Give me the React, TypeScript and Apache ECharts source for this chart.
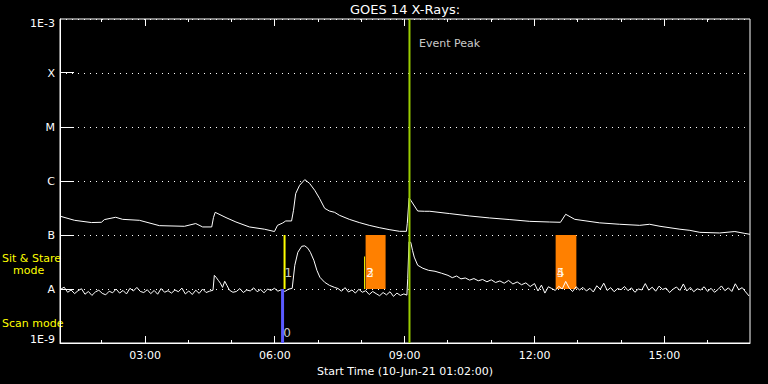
import { useEffect, useRef } from "react";
import * as echarts from "echarts";

const chartTitle = "GOES 14 X-Rays:";
const axisTitle = "Start Time (10-Jun-21 01:02:00)";
const timeStart = 1.0333; // 01:02 in hours
const timeEnd = 16.98;
const majorHours = [3, 6, 9, 12, 15];
const minorHours = [2, 4, 5, 7, 8, 10, 11, 13, 14, 16];
const fluxMin = 1e-9;
const fluxMax = 1e-3;
const fluxDecades = [1e-8, 1e-7, 1e-6, 1e-5, 1e-4];
const fluxTickLabels = ["1E-9", "A", "B", "C", "M", "X", "1E-3"];
const UNIT = 1e-9; // flux values below are in 1e-9 W/m^2

// long channel (1-8 A): [hour, flux in 1e-9]
const longChannel: [number, number][] = [
  [1.045, 222], [1.37, 187], [1.76, 170], [1.99, 172], [2.06, 193], [2.32, 213], [2.48, 195],
  [2.87, 187], [3.33, 149], [3.91, 145], [4.17, 163], [4.33, 141], [4.54, 141], [4.58, 210],
  [4.62, 263], [4.87, 210], [5.10, 174], [5.41, 141], [5.76, 128], [5.99, 116], [6.06, 151],
  [6.18, 167], [6.25, 182], [6.385, 182], [6.43, 287], [6.48, 584], [6.57, 832], [6.69, 1060],
  [6.80, 906], [6.92, 673], [7.03, 478], [7.15, 312], [7.26, 278], [7.38, 263], [7.49, 232],
  [7.72, 195], [7.95, 170], [8.18, 151], [8.41, 137], [8.64, 126], [8.88, 117], [9.04, 117],
  [9.06, 165], [9.10, 478], [9.14, 439], [9.30, 278], [9.46, 275], [9.58, 275], [10.04, 249],
  [10.50, 225], [10.96, 207], [11.43, 193], [11.89, 179], [12.35, 174], [12.60, 172],
  [12.72, 242], [12.93, 195], [13.50, 168], [13.97, 158], [14.43, 151], [14.66, 158],
  [14.90, 145], [15.36, 128], [15.59, 122], [15.82, 112], [16.28, 109], [16.63, 116],
  [16.86, 107], [16.98, 103],
];

// short channel (0.5-4 A): [hour, flux in 1e-9]
const shortChannel: [number, number][] = [
  [1.05, 9.9], [1.13, 10.8], [1.21, 8.7], [1.29, 9.6], [1.37, 8.2], [1.45, 9.3], [1.53, 10.1],
  [1.61, 8.0], [1.69, 9.0], [1.77, 7.6], [1.85, 8.8], [1.93, 9.5], [2.01, 8.3], [2.09, 7.8],
  [2.17, 9.1], [2.25, 8.5], [2.33, 10.0], [2.41, 8.4], [2.49, 9.4], [2.57, 8.1], [2.65, 10.3],
  [2.73, 9.2], [2.81, 10.7], [2.89, 9.0], [2.97, 8.6], [3.05, 9.7], [3.13, 8.2], [3.21, 9.4],
  [3.29, 8.0], [3.37, 10.2], [3.45, 8.7], [3.53, 9.3], [3.61, 8.4], [3.69, 9.6], [3.77, 8.9],
  [3.85, 10.4], [3.93, 8.1], [4.01, 9.2], [4.09, 7.9], [4.17, 9.5], [4.25, 8.3], [4.33, 10.0],
  [4.41, 8.6], [4.49, 9.1],
  [4.57, 9.5], [4.60, 17.9], [4.64, 16.5], [4.69, 14.5], [4.74, 12.8], [4.79, 10.7],
  [4.84, 13.9], [4.89, 11.7], [4.95, 9.5], [5.03, 8.7],
  [5.11, 9.0], [5.19, 10.2], [5.27, 8.6], [5.35, 9.6], [5.43, 9.2], [5.51, 10.5], [5.59, 8.9],
  [5.67, 9.8], [5.75, 8.5], [5.83, 10.0], [5.91, 9.4], [5.99, 10.3], [6.07, 9.1], [6.15, 9.7],
  [6.23, 9.0], [6.31, 9.9],
  [6.40, 10.3], [6.46, 27.5], [6.53, 47.8], [6.62, 61.8], [6.69, 63.0], [6.76, 57.0],
  [6.82, 47.8], [6.90, 34.0], [6.97, 22.2], [7.04, 16.5], [7.15, 13.3], [7.26, 11.7],
  [7.38, 10.7],
  [7.46, 10.2], [7.54, 9.1], [7.62, 10.6], [7.70, 8.8], [7.78, 9.6], [7.86, 8.4], [7.94, 9.9],
  [8.02, 8.7], [8.10, 9.3], [8.18, 7.9], [8.26, 9.0], [8.34, 8.2], [8.42, 7.5], [8.50, 8.6],
  [8.58, 7.8], [8.66, 8.9], [8.74, 7.3], [8.82, 8.4], [8.90, 7.6], [8.98, 8.1],
  [9.05, 7.7], [9.07, 15.8], [9.10, 75], [9.14, 73], [9.18, 52], [9.22, 39], [9.30, 27.5],
  [9.42, 24.2], [9.55, 22.2], [9.70, 21.3], [9.85, 19.6], [10.0, 17.9], [10.1, 16.2],
  [10.2, 17.4], [10.3, 15.4], [10.4, 16.0], [10.5, 14.6], [10.6, 15.6], [10.7, 14.2],
  [10.8, 15.0], [10.9, 13.6], [11.0, 14.8], [11.1, 13.2], [11.2, 14.1], [11.3, 12.8],
  [11.4, 14.4], [11.5, 12.4], [11.6, 13.5], [11.7, 12.0], [11.8, 13.0], [11.9, 11.1],
  [12.0, 12.6], [12.08, 9.2], [12.16, 11.8], [12.24, 8.4], [12.32, 11.0], [12.40, 10.2],
  [12.48, 9.4], [12.56, 11.2], [12.64, 10.0], [12.72, 13.8], [12.80, 10.4], [12.88, 9.0],
  [12.96, 11.0], [13.04, 9.6], [13.12, 10.7], [13.20, 9.2], [13.28, 10.3], [13.36, 8.8],
  [13.44, 11.5], [13.52, 9.9], [13.60, 12.8], [13.68, 9.4], [13.76, 10.6], [13.84, 8.9],
  [13.92, 10.2], [14.00, 9.7], [14.08, 11.1], [14.16, 9.3], [14.24, 10.5], [14.32, 8.7],
  [14.40, 10.0], [14.48, 9.6], [14.56, 12.6], [14.64, 9.5], [14.72, 10.8], [14.80, 9.1],
  [14.88, 11.3], [14.96, 9.8], [15.04, 10.4], [15.12, 8.6], [15.20, 9.9], [15.28, 10.9],
  [15.36, 9.4], [15.44, 12.4], [15.52, 9.2], [15.60, 10.7], [15.68, 8.9], [15.76, 10.1],
  [15.84, 9.6], [15.92, 11.0], [16.00, 9.0], [16.08, 10.3], [16.16, 8.7], [16.24, 9.8],
  [16.32, 11.4], [16.40, 9.3], [16.48, 10.5], [16.56, 9.0], [16.64, 12.5], [16.72, 9.7],
  [16.80, 10.6], [16.88, 8.8], [16.96, 7.4],
];

const eventPeakTime = 9.11;
const eventLabel = { time: 9.33, flux: 3.5e-4, text: "Event Peak" };
// scan mode pointing: [hour, fluxFrom, fluxTo]
const scanLines: [number, number, number][] = [[6.177, 1e-9, 1e-8]];
// sit & stare pointings: [hour, fluxFrom, fluxTo, width]
const stareLines: [number, number, number, number][] = [
  [6.223, 1e-8, 1e-7, 2],
  [8.073, 1e-8, 4e-8, 1],
];
// sit & stare windows: [hourStart, hourEnd]
const stareWindows: [number, number][] = [
  [8.096, 8.558],
  [12.488, 12.967],
];
// pointing numbers: [label, hour, flux]
const pointLabels: [string, number, number][] = [
  ["0", 6.28, 1.5e-9],
  ["1", 6.31, 1.98e-8],
  ["2", 8.2, 2.0e-8],
  ["3", 8.2, 2.0e-8],
  ["4", 12.6, 2.0e-8],
  ["5", 12.6, 2.0e-8],
];

const FONT = "DejaVu Sans";
const TICK_COLOR = "#fff";
const MAJOR_LEN = 7;
const MINOR_LEN = 3;
const DECADE_LEN = 14;
const hourLabel = (v: number) => String(Math.round(v)).padStart(2, "0") + ":00";
const fluxLabel = (v: number) => {
  const e = Math.round(Math.log10(v));
  const s = fluxTickLabels[e + 9] ?? "";
  if (e === -3) return `{top|${s}}`;
  if (e === -9) return `{bot|${s}}`;
  return s;
};
const crisp = (v: number) => Math.round(v - 0.5) + 0.5;
const allHours = [...majorHours, ...minorHours];

const option = {
  animation: false,
  backgroundColor: "#000",
  textStyle: { fontFamily: FONT },
  title: {
    text: chartTitle,
    left: 405,
    top: 3,
    padding: 0,
    textAlign: "center",
    textStyle: { color: "#fff", fontSize: 13, fontWeight: "normal", fontFamily: FONT },
  },
  grid: {
    left: 60,
    right: 18,
    top: 19,
    bottom: 41,
    show: true,
    borderColor: "#fff",
    borderWidth: 1,
    backgroundColor: "transparent",
  },
  graphic: [
    { type: "text", left: 2, top: 253, style: { text: "Sit & Stare", fill: "#ffff00", font: `11px "${FONT}"` } },
    { type: "text", left: 13, top: 265, style: { text: "mode", fill: "#ffff00", font: `11px "${FONT}"` } },
    { type: "text", left: 2, top: 318, style: { text: "Scan mode", fill: "#ffff00", font: `11px "${FONT}"` } },
  ],
  xAxis: {
    type: "value",
    min: timeStart,
    max: timeEnd,
    position: "bottom",
    splitLine: { show: false },
    axisLine: { show: true, lineStyle: { color: "#fff", width: 1 } },
    axisTick: { show: false },
    axisLabel: {
      show: true,
      customValues: majorHours,
      formatter: hourLabel,
      color: "#fff",
      fontSize: 11,
      fontFamily: FONT,
      margin: 7,
    },
    name: axisTitle,
    nameLocation: "middle",
    nameGap: 19,
    nameTextStyle: { color: "#fff", fontSize: 11, fontFamily: FONT },
  },
  yAxis: {
    type: "log",
    logBase: 10,
    min: fluxMin,
    max: fluxMax,
    axisLine: { show: true, lineStyle: { color: "#fff", width: 1 } },
    axisTick: { show: false },
    splitLine: { show: true, lineStyle: { color: "#fff", width: 1, type: [1, 5] } },
    axisLabel: {
      color: "#fff",
      fontSize: 11,
      fontFamily: FONT,
      margin: 5,
      formatter: fluxLabel,
      showMinLabel: true,
      showMaxLabel: true,
      rich: {
        top: { color: "#fff", fontSize: 11, fontFamily: FONT, padding: [8, 0, 0, 0] },
        bot: { color: "#fff", fontSize: 11, fontFamily: FONT, padding: [0, 0, 7, 0] },
      },
    },
  },
  series: [
    {
      type: "line",
      name: "windows",
      data: [],
      silent: true,
      markArea: {
        silent: true,
        itemStyle: { color: "#ff8000", opacity: 1 },
        label: { show: false },
        data: stareWindows.map(([a, b]) => [
          { xAxis: a, yAxis: 1e-8 },
          { xAxis: b, yAxis: 1e-7 },
        ]),
      },
    },
    {
      // time ticks, bottom and top, pointing inward
      type: "custom",
      silent: true,
      clip: false,
      z: 7,
      data: allHours.map((h) => [h, fluxMin]),
      renderItem: (params: any, api: any) => {
        const t = allHours[params.dataIndex];
        const len = majorHours.includes(t) ? MAJOR_LEN : MINOR_LEN;
        const b = api.coord([t, fluxMin]);
        const tp = api.coord([t, fluxMax]);
        const x = crisp(b[0]);
        const st = { stroke: TICK_COLOR, lineWidth: 1 };
        return {
          type: "group",
          children: [
            { type: "line", shape: { x1: x, y1: b[1], x2: x, y2: b[1] - len }, style: st },
            { type: "line", shape: { x1: x, y1: tp[1], x2: x, y2: tp[1] + len }, style: st },
          ],
        };
      },
    },
    {
      // decade ticks on the flux axis, pointing inward
      type: "custom",
      silent: true,
      clip: false,
      z: 7,
      data: fluxDecades.map((f) => [timeStart, f]),
      renderItem: (params: any, api: any) => {
        const f = fluxDecades[params.dataIndex];
        const p = api.coord([timeStart, f]);
        const y = crisp(p[1]);
        return {
          type: "line",
          shape: { x1: p[0], y1: y, x2: p[0] + DECADE_LEN, y2: y },
          style: { stroke: TICK_COLOR, lineWidth: 1 },
        };
      },
    },
    {
      type: "line",
      name: "long",
      data: longChannel.map(([t, v]) => [t, v * UNIT]),
      showSymbol: false,
      symbol: "none",
      lineStyle: { color: "#fff", width: 1 },
      z: 3,
    },
    {
      type: "line",
      name: "short",
      data: shortChannel.map(([t, v]) => [t, v * UNIT]),
      showSymbol: false,
      symbol: "none",
      lineStyle: { color: "#fff", width: 1 },
      z: 3,
    },
    ...scanLines.map(([t, a, b]) => ({
      type: "line",
      data: [[t, a], [t, b]],
      symbol: "none",
      lineStyle: { color: "#5a5aff", width: 3 },
      z: 4,
    })),
    ...stareLines.map(([t, a, b, w]) => ({
      type: "line",
      data: [[t, a], [t, b]],
      symbol: "none",
      lineStyle: { color: "#ffff00", width: w },
      z: 4,
    })),
    {
      type: "line",
      data: [[eventPeakTime, fluxMin], [eventPeakTime, fluxMax]],
      symbol: "none",
      lineStyle: { color: "#9acd00", width: 2 },
      z: 5,
    },
    {
      type: "scatter",
      symbolSize: 1,
      itemStyle: { color: "transparent" },
      z: 6,
      data: [
        ...pointLabels.map(([s, t, f]) => ({
          name: s,
          value: [t, f],
          label: { show: true, position: "inside", formatter: s, color: "#fff", fontSize: 12, fontFamily: FONT },
        })),
        {
          name: eventLabel.text,
          value: [eventLabel.time, eventLabel.flux],
          label: {
            show: true,
            position: "inside",
            align: "left",
            formatter: eventLabel.text,
            color: "#fff",
            fontSize: 11,
            fontFamily: FONT,
          },
        },
      ],
    },
  ],
};

export default function App() {
  const ref = useRef<HTMLDivElement>(null);
  useEffect(() => {
    document.body.style.margin = "0";
    const chart = echarts.init(ref.current!, null, { renderer: "svg" });
    chart.setOption(option as any);
    return () => chart.dispose();
  }, []);
  return <div ref={ref} style={{ width: 768, height: 384 }} />;
}
